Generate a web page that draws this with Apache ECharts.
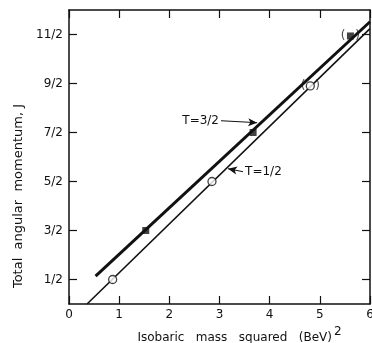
<!DOCTYPE html>
<html>
<head>
<meta charset="utf-8">
<script src="https://cdn.jsdelivr.net/npm/echarts@6/dist/echarts.min.js"></script>
<style>
  html, body { margin: 0; padding: 0; background: #fff; }
  #chart { width: 372px; height: 343px; }
</style>
</head>
<body>
<div id="chart"></div>
<script>
// Isobar states: squared mass (BeV^2) vs total angular momentum J
const t32Points = [[1.53, 1.5], [3.67, 3.5]];
const t32Uncertain = [[5.61, 5.47]];
const t12Points = [[0.87, 0.5], [2.85, 2.5]];
const t12Uncertain = [[4.81, 4.45]];

// Fitted straight lines (end points)
const t32Line = [[0.53, 0.57], [6.0, 5.76]];
const t12Line = [[0.36, 0.0], [6.0, 5.62]];

// Axis ticks
const xTickValues = [0, 1, 2, 3, 4, 5, 6];
const yTickValues = [0.5, 1.5, 2.5, 3.5, 4.5, 5.5];
const yTickLabels = ['1/2', '3/2', '5/2', '7/2', '9/2', '11/2'];

// Annotation arrows: [tail, head] in data units
const t32Arrow = [[3.03, 3.74], [3.75, 3.70]];
const t12Arrow = [[3.47, 2.70], [3.17, 2.76]];

const FONT = 'DejaVu Sans';
const INK = '#111';

const chart = echarts.init(document.getElementById('chart'), null, { renderer: 'canvas' });

const baseAxis = {
  min: 0, max: 6,
  axisLine: { show: true, onZero: false, lineStyle: { color: INK, width: 1.5 } },
  splitLine: { show: false },
};

chart.setOption({
  animation: false,
  backgroundColor: '#fff',
  grid: { left: 69, right: 2, top: 10, bottom: 39, containLabel: false, outerBoundsMode: 'none' },
  xAxis: [
    Object.assign({}, baseAxis, {
      type: 'value', position: 'bottom', interval: 1,
      axisTick: { show: true, inside: true, length: 8, lineStyle: { color: INK, width: 1.2 } },
      axisLabel: { show: true, margin: 5, color: INK, fontFamily: FONT, fontSize: 12,
        customValues: xTickValues, formatter: v => String(v) },
      name: '{t|Isobaric   mass   squared   (BeV)}{s|2}',
      nameLocation: 'middle', nameGap: 22,
      nameTextStyle: {
        padding: [0, 0, 0, 40],
        rich: {
          t: { fontFamily: FONT, fontSize: 12, color: INK, lineHeight: 18, verticalAlign: 'bottom' },
          s: { fontFamily: FONT, fontSize: 12, color: INK, lineHeight: 12, verticalAlign: 'top', padding: [0, 0, 0, 2] }
        }
      }
    }),
    Object.assign({}, baseAxis, {
      type: 'value', position: 'top', interval: 1,
      axisTick: { show: true, inside: true, length: 8, lineStyle: { color: INK, width: 1.2 } },
      axisLabel: { show: false }
    })
  ],
  yAxis: [
    Object.assign({}, baseAxis, {
      type: 'value', position: 'left',
      axisTick: { show: true, inside: true, length: 8, customValues: yTickValues,
        lineStyle: { color: INK, width: 1.2 } },
      axisLabel: { show: true, margin: 6, color: INK, fontFamily: FONT, fontSize: 12,
        customValues: yTickValues,
        formatter: v => yTickLabels[yTickValues.indexOf(v)] },
      name: 'Total  angular  momentum, J',
      nameLocation: 'middle', nameGap: 40, nameRotate: 90,
      nameTextStyle: { fontFamily: FONT, fontSize: 13, color: INK, padding: [0, 78, 0, 0] }
    }),
    Object.assign({}, baseAxis, {
      type: 'value', position: 'right',
      axisTick: { show: true, inside: true, length: 8, customValues: yTickValues,
        lineStyle: { color: INK, width: 1.2 } },
      axisLabel: { show: false }
    })
  ],
  series: [
    {
      name: 'T=3/2 fit', type: 'line', data: t32Line, symbol: 'none',
      lineStyle: { color: INK, width: 3 }, z: 2,
      markLine: {
        silent: true, symbol: ['none', 'arrow'], symbolSize: [6, 9],
        lineStyle: { color: INK, width: 1, type: 'solid' },
        label: { show: false },
        data: [[{ coord: t32Arrow[0] }, { coord: t32Arrow[1] }]]
      },
      markPoint: {
        silent: true, symbol: 'rect', symbolSize: 0,
        label: { show: true, position: 'left', distance: 2, formatter: 'T=3/2',
          fontFamily: FONT, fontSize: 12, color: INK },
        data: [{ coord: t32Arrow[0] }]
      }
    },
    {
      name: 'T=1/2 fit', type: 'line', data: t12Line, symbol: 'none',
      lineStyle: { color: INK, width: 1.6 }, z: 2,
      markLine: {
        silent: true, symbol: ['none', 'arrow'], symbolSize: [6, 9],
        lineStyle: { color: INK, width: 1, type: 'solid' },
        label: { show: false },
        data: [[{ coord: t12Arrow[0] }, { coord: t12Arrow[1] }]]
      },
      markPoint: {
        silent: true, symbol: 'rect', symbolSize: 0,
        label: { show: true, position: 'right', distance: 2, formatter: 'T=1/2',
          fontFamily: FONT, fontSize: 12, color: INK },
        data: [{ coord: t12Arrow[0] }]
      }
    },
    {
      name: 'T=3/2', type: 'scatter', data: t32Points, symbol: 'rect', symbolSize: 7,
      itemStyle: { color: INK }, z: 5
    },
    {
      name: 'T=3/2 (uncertain)', type: 'scatter', data: t32Uncertain, symbol: 'rect', symbolSize: 7,
      itemStyle: { color: INK }, z: 5,
      label: { show: true, position: 'inside', formatter: '(\u2002 )',
        fontFamily: FONT, fontSize: 12, color: INK }
    },
    {
      name: 'T=1/2', type: 'scatter', data: t12Points, symbol: 'circle', symbolSize: 8,
      itemStyle: { color: '#fff', borderColor: INK, borderWidth: 1.3 }, z: 5
    },
    {
      name: 'T=1/2 (uncertain)', type: 'scatter', data: t12Uncertain, symbol: 'circle', symbolSize: 8,
      itemStyle: { color: '#fff', borderColor: INK, borderWidth: 1.3 }, z: 5,
      label: { show: true, position: 'inside', formatter: '(\u2002 )',
        fontFamily: FONT, fontSize: 12, color: INK }
    }
  ]
});
</script>
</body>
</html>
